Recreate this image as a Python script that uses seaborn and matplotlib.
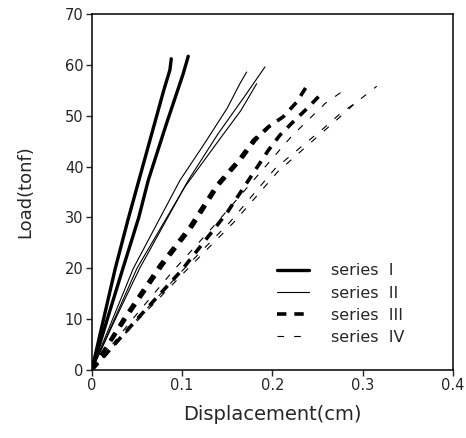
import numpy as np
import pandas as pd
import matplotlib
matplotlib.use("Agg")
import matplotlib.pyplot as plt
import seaborn as sns

# series I (thick solid)
s1a_x = [0, 0.013, 0.026, 0.040, 0.054, 0.068, 0.080, 0.0865, 0.088]
s1a_y = [0, 10, 20, 29.5, 38.5, 47.5, 55.2, 59, 61.2]
s1b_x = [0, 0.018, 0.035, 0.052, 0.0625, 0.0828, 0.1013, 0.1068]
s1b_y = [0, 10.5, 20.3, 30, 37.3, 48.5, 58.3, 61.7]

# series II (thin solid)
s2a_x = [0, 0.023, 0.046, 0.0976, 0.125, 0.150, 0.164, 0.1715]
s2a_y = [0, 10, 20, 37.3, 44.6, 51.5, 56.3, 58.6]
s2b_x = [0, 0.026, 0.053, 0.1068, 0.140, 0.170, 0.1918]
s2b_y = [0, 10, 20, 37.3, 46.5, 54, 59.6]
s2c_x = [0, 0.025, 0.050, 0.103, 0.140, 0.165, 0.1826]
s2c_y = [0, 10, 20, 36, 45, 51, 56.3]

# series III (thick dashed)
s3a_x = [0, 0.035, 0.0754, 0.1087, 0.138, 0.164, 0.179, 0.1955, 0.212, 0.227, 0.2387]
s3a_y = [0, 10, 20.6, 28.2, 36.3, 41.6, 45.2, 47.8, 49.8, 52.7, 56]
s3b_x = [0, 0.050, 0.0994, 0.150, 0.1955, 0.2084, 0.223, 0.240, 0.2546]
s3b_y = [0, 10, 19.6, 31, 43.2, 46.2, 48.8, 51.7, 54.4]
s3c_x = [0, 0.037, 0.078, 0.111, 0.140, 0.166, 0.181, 0.197]
s3c_y = [0, 10, 20.6, 28.2, 36.3, 41.6, 45.2, 48]

# series IV (thin dashed)
s4a_x = [0, 0.045, 0.090, 0.136, 0.180, 0.2214, 0.2583, 0.2768]
s4a_y = [0, 10, 19.5, 28.5, 37.5, 46, 52.4, 54.7]
s4b_x = [0, 0.050, 0.100, 0.153, 0.2029, 0.2387, 0.2565, 0.275, 0.2934, 0.3156]
s4b_y = [0, 10, 19.5, 29.1, 39.6, 44.9, 47.5, 50.4, 52.7, 55.8]
s4c_x = [0, 0.052, 0.104, 0.157, 0.206, 0.241, 0.270, 0.295]
s4c_y = [0, 10, 19.5, 29, 39, 44.5, 49, 53]

labels = ["series  I", "series  II", "series  III", "series  IV"]

series = [
    (labels[0], [(s1a_x, s1a_y), (s1b_x, s1b_y)]),
    (labels[1], [(s2a_x, s2a_y), (s2b_x, s2b_y), (s2c_x, s2c_y)]),
    (labels[2], [(s3a_x, s3a_y), (s3b_x, s3b_y), (s3c_x, s3c_y)]),
    (labels[3], [(s4a_x, s4a_y), (s4b_x, s4b_y), (s4c_x, s4c_y)]),
]

styles = {
    labels[0]: dict(lw=2.4, ls="-"),
    labels[1]: dict(lw=0.8, ls="-"),
    labels[2]: dict(lw=2.6, ls=(0, (2.6, 2.2))),
    labels[3]: dict(lw=0.8, ls=(0, (6.0, 9.0))),
}

sns.set_style("ticks")
plt.rcParams["font.family"] = ["DejaVu Sans"]

fig = plt.figure(figsize=(4.66, 4.38), dpi=100)
ax = fig.add_axes([0.197, 0.155, 0.775, 0.813])

for name, lines in series:
    for i, (x, y) in enumerate(lines):
        df = pd.DataFrame({"x": x, "y": y})
        st = styles[name]
        sns.lineplot(data=df, x="x", y="y", ax=ax, sort=False, estimator=None,
                     color="black", linewidth=st["lw"], linestyle=st["ls"],
                     label=name if i == 0 else None, legend=False)

ax.set_xlim(0, 0.4)
ax.set_ylim(0, 70)
ax.set_xticks([0, 0.1, 0.2, 0.3, 0.4])
ax.set_xticklabels(["0", "0.1", "0.2", "0.3", "0.4"])
ax.set_yticks(range(0, 71, 10))
ax.tick_params(direction="out", length=4, width=1, labelsize=10.5, pad=2)
for sp in ax.spines.values():
    sp.set_visible(True)
    sp.set_color("black")
    sp.set_linewidth(1.1)

ax.set_xlabel("Displacement(cm)", fontsize=14, labelpad=8)
ax.set_ylabel("Load(tonf)", fontsize=13, labelpad=22)

handles, labs = ax.get_legend_handles_labels()
leg = ax.legend(handles, labs, loc="lower left", bbox_to_anchor=(0.473, 0.03),
                frameon=False, fontsize=11.5, handlelength=2.0,
                handletextpad=1.4, labelspacing=0.45)

fig.savefig("out.png", dpi=100)
